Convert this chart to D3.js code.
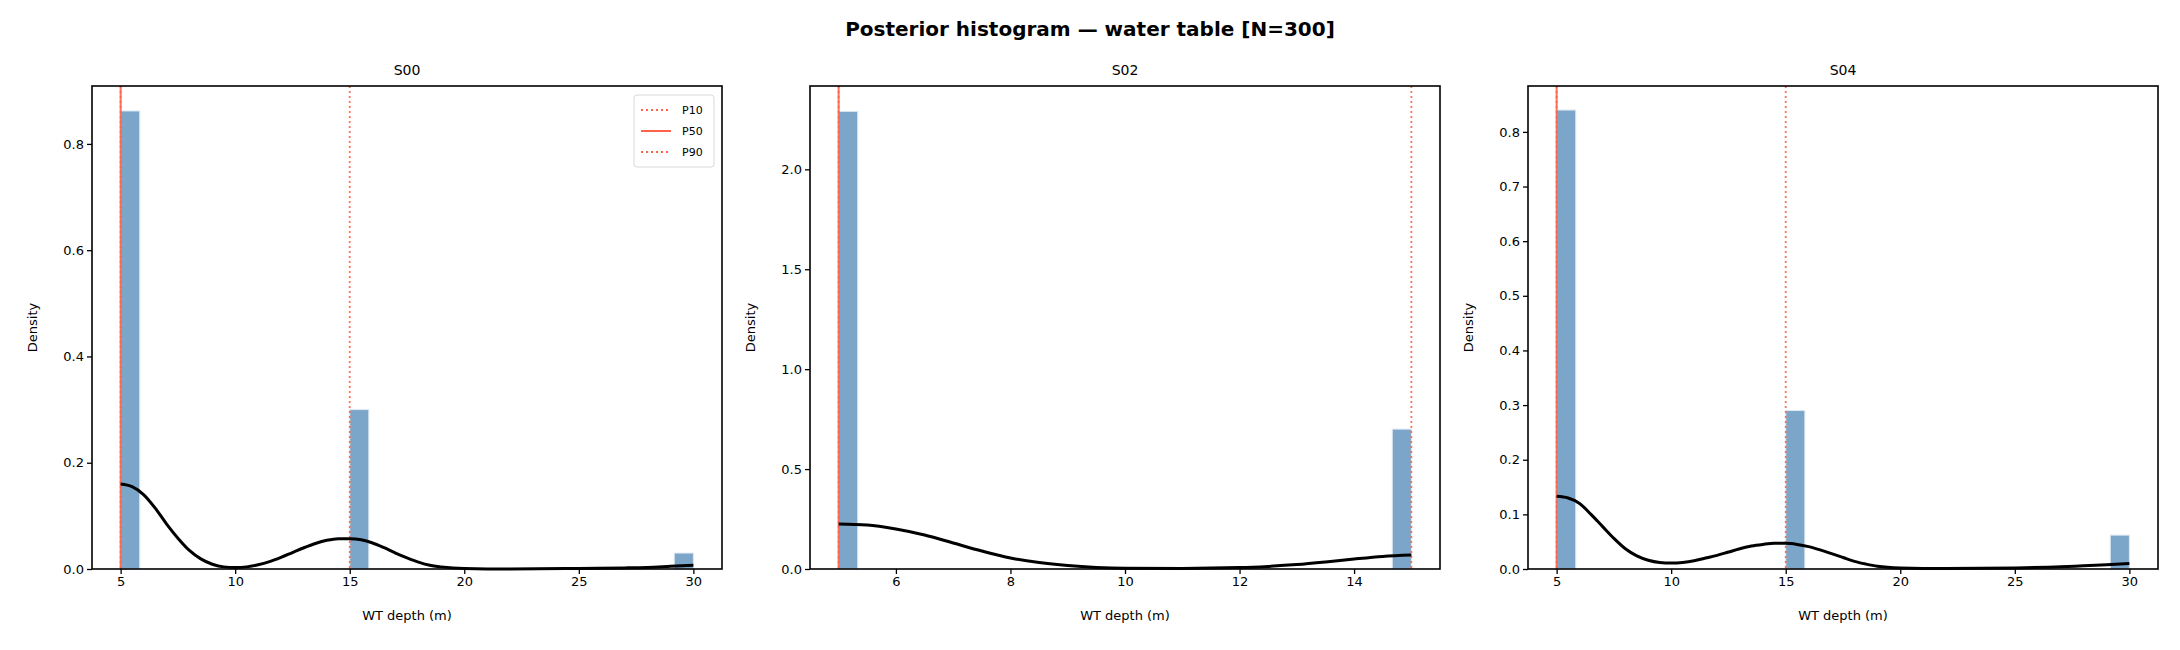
<!DOCTYPE html>
<html>
<head>
<meta charset="utf-8">
<script src="https://cdn.jsdelivr.net/npm/d3@7"></script>
<style>
  body { margin: 0; background: #fff; font-family: "DejaVu Sans", sans-serif; }
  .tick text { font-size: 13px; font-family: "DejaVu Sans", sans-serif; }
</style>
</head>
<body>
<script>
const sites = ["S00", "S02", "S04"];
const xDomains = [[3.75, 31.25], [4.5, 15.5], [3.75, 31.25]];
const yDomains = [[0, 0.909], [0, 2.417], [0, 0.884]];
const xTicks = [[5, 10, 15, 20, 25, 30], [6, 8, 10, 12, 14], [5, 10, 15, 20, 25, 30]];
const yTicks = [[0, 0.2, 0.4, 0.6, 0.8], [0, 0.5, 1.0, 1.5, 2.0], [0, 0.1, 0.2, 0.3, 0.4, 0.5, 0.6, 0.7, 0.8]];
const yFormats = [".1f", ".1f", ".1f"];
const binStarts = [5, 5, 5];
const binEnds = [30, 15, 30];
// 30 bins per panel, only non-zero bins listed as [binIndex, density]
const bars = [
  [[0, 0.862], [12, 0.30], [29, 0.030]],
  [[0, 2.29], [29, 0.70]],
  [[0, 0.84], [12, 0.29], [29, 0.062]]
];
const kde = [
  [[5,0.16],[5.5,0.155],[6,0.14],[6.5,0.115],[7,0.085],[7.5,0.058],[8,0.035],[8.5,0.019],[9,0.009],[9.5,0.004],[10,0.003],[10.5,0.004],[11,0.008],[11.5,0.014],[12,0.022],[12.5,0.031],[13,0.04],[13.5,0.048],[14,0.054],[14.5,0.057],[15,0.057],[15.5,0.055],[16,0.049],[16.5,0.04],[17,0.03],[17.5,0.021],[18,0.013],[18.5,0.007],[19,0.004],[20,0.001],[22,0.0],[25,0.001],[27,0.002],[28,0.003],[29,0.005],[30,0.007]],
  [[5,0.225],[5.5,0.22],[6,0.2],[6.5,0.17],[7,0.13],[7.5,0.09],[8,0.055],[8.5,0.032],[9,0.017],[9.5,0.008],[10,0.004],[11,0.003],[12,0.007],[12.5,0.013],[13,0.022],[13.5,0.035],[14,0.05],[14.5,0.063],[15,0.07]],
  [[5,0.133],[5.5,0.13],[6,0.12],[6.5,0.1],[7,0.078],[7.5,0.056],[8,0.037],[8.5,0.024],[9,0.016],[9.5,0.012],[10,0.011],[10.5,0.012],[11,0.015],[11.5,0.02],[12,0.025],[12.5,0.031],[13,0.037],[13.5,0.042],[14,0.045],[14.5,0.047],[15,0.047],[15.5,0.045],[16,0.041],[16.5,0.035],[17,0.028],[17.5,0.021],[18,0.014],[18.5,0.009],[19,0.005],[20,0.002],[22,0.001],[25,0.002],[27,0.004],[28,0.006],[29,0.008],[30,0.01]]
];
// P10, P50, P90
const percentiles = [[5, 5, 15], [5, 5, 15], [5, 5, 15]];
const pctLabels = ["P10", "P50", "P90"];

const W = 2180, H = 650;
const panelLeft = [92, 810, 1528], panelW = 630, plotTop = 86, plotBottom = 569;
const red = "#ff6347";

const svg = d3.select("body").append("svg").attr("width", W).attr("height", H);
svg.append("text").attr("x", W / 2).attr("y", 36).attr("text-anchor", "middle")
  .attr("font-size", "20px").attr("font-weight", "bold")
  .text("Posterior histogram — water table  [N=300]");

sites.forEach(function(site, i) {
  const x = d3.scaleLinear().domain(xDomains[i]).range([panelLeft[i], panelLeft[i] + panelW]);
  const y = d3.scaleLinear().domain(yDomains[i]).range([plotBottom, plotTop]);
  const g = svg.append("g");
  const bw = (binEnds[i] - binStarts[i]) / 30;

  g.selectAll("rect.bar").data(bars[i]).enter().append("rect")
    .attr("x", d => x(binStarts[i] + d[0] * bw))
    .attr("width", d => x(binStarts[i] + (d[0] + 1) * bw) - x(binStarts[i] + d[0] * bw))
    .attr("y", d => y(d[1]))
    .attr("height", d => y(0) - y(d[1]))
    .attr("fill", "#7ba6c9").attr("stroke", "#dde8f2").attr("stroke-width", 1);

  percentiles[i].forEach(function(p, k) {
    g.append("line").attr("x1", x(p)).attr("x2", x(p)).attr("y1", plotTop).attr("y2", plotBottom)
      .attr("stroke", red).attr("stroke-width", k === 1 ? 2 : 1.8).attr("opacity", 0.9)
      .attr("stroke-dasharray", k === 1 ? null : "2,3");
  });

  g.append("path").datum(kde[i])
    .attr("d", d3.line().x(d => x(d[0])).y(d => y(d[1])).curve(d3.curveMonotoneX))
    .attr("fill", "none").attr("stroke", "#000").attr("stroke-width", 3);

  g.append("g").attr("transform", `translate(0,${plotBottom})`)
    .call(d3.axisBottom(x).tickValues(xTicks[i]).tickFormat(d3.format("d")).tickSizeOuter(0).tickSize(5))
    .call(a => a.select(".domain").remove());
  g.append("g").attr("transform", `translate(${panelLeft[i]},0)`)
    .call(d3.axisLeft(y).tickValues(yTicks[i]).tickFormat(d3.format(yFormats[i])).tickSizeOuter(0).tickSize(5))
    .call(a => a.select(".domain").remove());
  g.selectAll(".tick line").attr("stroke-width", 1.3);

  g.append("rect").attr("x", panelLeft[i]).attr("y", plotTop).attr("width", panelW).attr("height", plotBottom - plotTop)
    .attr("fill", "none").attr("stroke", "#000").attr("stroke-width", 1.6);

  g.append("text").attr("x", panelLeft[i] + panelW / 2).attr("y", plotTop - 11).attr("text-anchor", "middle")
    .attr("font-size", "14px").text(site);
  g.append("text").attr("x", panelLeft[i] + panelW / 2).attr("y", plotBottom + 51).attr("text-anchor", "middle")
    .attr("font-size", "13px").text("WT depth (m)");
  g.append("text").attr("transform", `translate(${panelLeft[i] - 55},${(plotTop + plotBottom) / 2}) rotate(-90)`)
    .attr("text-anchor", "middle").attr("font-size", "13px").text("Density");

  if (i === 0) {
    const lx = panelLeft[i] + panelW - 88, ly = plotTop + 9;
    g.append("rect").attr("x", lx).attr("y", ly).attr("width", 80).attr("height", 72).attr("rx", 3)
      .attr("fill", "#fff").attr("stroke", "#d9d9d9");
    pctLabels.forEach(function(lab, k) {
      const yy = ly + 15 + k * 21;
      g.append("line").attr("x1", lx + 7).attr("x2", lx + 37).attr("y1", yy).attr("y2", yy)
        .attr("stroke", red).attr("stroke-width", k === 1 ? 2 : 1.8)
        .attr("stroke-dasharray", k === 1 ? null : "2,3");
      g.append("text").attr("x", lx + 48).attr("y", yy + 4).attr("font-size", "11px").text(lab);
    });
  }
});
</script>
</body>
</html>
